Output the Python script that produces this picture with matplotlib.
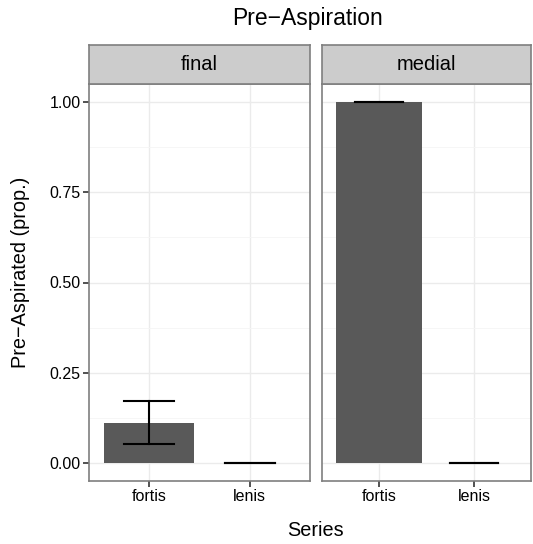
import matplotlib.pyplot as plt

plt.rcParams['font.family'] = ['Liberation Sans', 'DejaVu Sans']

panels = ["final", "medial"]
series = ["fortis", "lenis"]
means = {"final": [0.11, 0.0], "medial": [1.0, 0.0]}
lower = {"final": [0.052, 0.0], "medial": [1.0, 0.0]}
upper = {"final": [0.171, 0.0], "medial": [1.0, 0.0]}
yticks = [0.0, 0.25, 0.5, 0.75, 1.0]
ytick_labels = ["0.00", "0.25", "0.50", "0.75", "1.00"]

W, H = 533, 544
fig = plt.figure(figsize=(W / 100, H / 100), dpi=100)

border = "#7f7f7f"
panel_x = [(89, 310), (322, 531)]
top, bottom = 84, 481
strip_top = 45

for i, (name, (x0, x1)) in enumerate(zip(panels, panel_x)):
    ax = fig.add_axes([x0 / W, 1 - bottom / H, (x1 - x0) / W, (bottom - top) / H])
    xs = list(range(len(series)))
    ax.bar(xs, means[name], width=0.9, color="#595959", zorder=3)
    for x, lo, hi in zip(xs, lower[name], upper[name]):
        ax.plot([x, x], [lo, hi], color="black", lw=1.5, zorder=4)
        for yy in (lo, hi):
            ax.plot([x - 0.25, x + 0.25], [yy, yy], color="black", lw=1.5, zorder=4)
    ax.set_xlim(-0.6, 1.6)
    ax.set_ylim(-0.05, 1.05)
    ax.set_xticks(xs)
    ax.set_xticklabels(series, fontsize=11.5)
    ax.set_yticks(yticks)
    ax.set_yticks([0.125, 0.375, 0.625, 0.875], minor=True)
    ax.grid(True, which="major", color="#ebebeb", lw=1.0, zorder=0)
    ax.grid(True, which="minor", axis="y", color="#f5f5f5", lw=0.6, zorder=0)
    ax.tick_params(axis="both", which="major", length=4, color="#333333", width=1.2, pad=2)
    ax.tick_params(axis="both", which="minor", length=0)
    if i == 0:
        ax.set_yticklabels(ytick_labels, fontsize=11.5)
    else:
        ax.set_yticklabels([])
        ax.tick_params(axis="y", which="major", length=0)
    for s in ax.spines.values():
        s.set_color(border)
        s.set_linewidth(1.2)
    ax.set_axisbelow(True)

    # facet strip
    sax = fig.add_axes([x0 / W, 1 - top / H, (x1 - x0) / W, (top - strip_top) / H])
    sax.set_facecolor("#cccccc")
    sax.set_xticks([])
    sax.set_yticks([])
    for s in sax.spines.values():
        s.set_color(border)
        s.set_linewidth(1.2)
    sax.text(0.5, 0.5, name, ha="center", va="center", fontsize=14.5, transform=sax.transAxes)

fig.text(308 / W, 1 - 18 / H, "Pre\u2212Aspiration", ha="center", va="center", fontsize=16.5)
fig.text(315 / W, 1 - 530 / H, "Series", ha="center", va="center", fontsize=14.3)
fig.text(20 / W, 1 - 272 / H, "Pre\u2212Aspirated (prop.)", ha="center", va="center",
         rotation=90, fontsize=14.3)

fig.savefig("out.png", dpi=100, facecolor="white")
